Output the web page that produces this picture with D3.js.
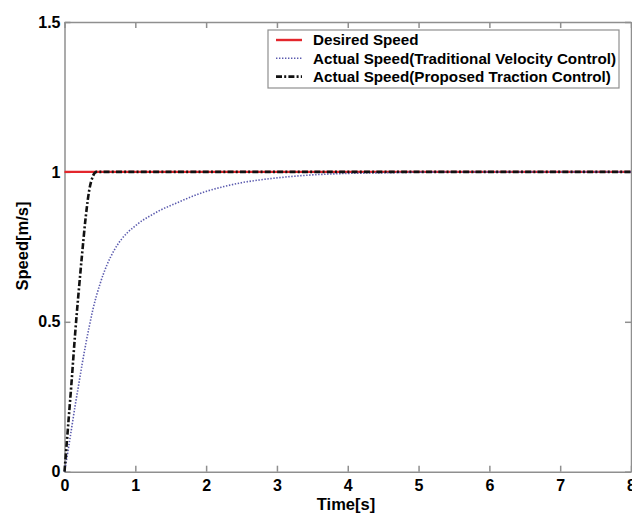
<!DOCTYPE html>
<html><head><meta charset="utf-8">
<script src="https://cdn.jsdelivr.net/npm/d3@7"></script>
<style>body{margin:0;background:#fff}svg{display:block}text{font-family:"Liberation Sans",Arial,sans-serif;font-weight:bold;fill:#000}</style>
</head><body>
<script>
// Data
const xTicks = [0,1,2,3,4,5,6,7,8];
const yTicks = [0,0.5,1,1.5];
const yTickLabels = ["0","0.5","1","1.5"];
const desiredT = [0, 8];
const desiredV = [1, 1];
const tradT = [0,0.05,0.1,0.15,0.2,0.25,0.3,0.35,0.4,0.5,0.6,0.7,0.8,0.9,1.0,1.1,1.2,1.35,1.5,1.6,1.8,2.0,2.25,2.5,2.75,3.0,3.5,4.0,4.5,5,6,7,8];
const tradV = [0,0.07,0.145,0.22,0.29,0.36,0.425,0.485,0.54,0.625,0.69,0.738,0.774,0.80,0.82,0.838,0.852,0.872,0.888,0.898,0.918,0.935,0.951,0.964,0.973,0.98,0.99,0.995,0.997,0.999,1,1,1];
const propT = [0,0.05,0.1,0.15,0.2,0.25,0.3,0.35,0.4,0.45,0.5,8];
const propV = [0,0.15,0.3,0.46,0.6,0.73,0.85,0.94,0.985,1.0,1.0,1.0];
const legendLabels = ["Desired Speed","Actual Speed(Traditional Velocity Control)","Actual Speed(Proposed Traction Control)"];
const xTitle = "Time[s]", yTitle = "Speed[m/s]";

const W=632,H=514, L=64.5, R=631, T=22, B=471.7;
const svg=d3.select("body").append("svg").attr("width",W).attr("height",H);
const x=d3.scaleLinear().domain([0,8]).range([L,R]);
const y=d3.scaleLinear().domain([0,1.5]).range([B,T]);
const axisCol="#8f8f8f";

// box + ticks
const g=svg.append("g");
const mk=(ax)=>ax.tickSizeOuter(0).tickSizeInner(-6).tickPadding(8);
const xb=g.append("g").attr("transform",`translate(0,${B})`).call(mk(d3.axisBottom(x)).tickValues(xTicks).tickFormat(d3.format("d")));
const xt=g.append("g").attr("transform",`translate(0,${T})`).call(mk(d3.axisTop(x)).tickValues(xTicks).tickFormat(""));
const yl=g.append("g").attr("transform",`translate(${L},0)`).call(mk(d3.axisLeft(y)).tickValues(yTicks).tickFormat((d,i)=>yTickLabels[i]));
const yr=g.append("g").attr("transform",`translate(${R},0)`).call(mk(d3.axisRight(y)).tickValues(yTicks).tickFormat(""));
g.selectAll(".domain,.tick line").attr("stroke",axisCol).attr("stroke-width",1.5);
g.selectAll(".tick text").style("font-size","16px").style("font-weight","bold").attr("fill","#000").style("font-family","'Liberation Sans',Arial,sans-serif");
xb.selectAll(".tick text").attr("dy","0.75em").attr("y",7);
yl.selectAll(".tick text").attr("x",-4);

const line=d3.line().x(d=>x(d[0])).y(d=>y(d[1])).curve(d3.curveMonotoneX);
const zip=(a,b)=>a.map((v,i)=>[v,b[i]]);
svg.append("path").attr("d",line(zip(desiredT,desiredV))).attr("fill","none").attr("stroke","#e3262c").attr("stroke-width",2.4);
svg.append("path").attr("d",line(zip(tradT,tradV))).attr("fill","none").attr("stroke","#5a5aae").attr("stroke-width",1.6).attr("stroke-dasharray","1.4,1.6");
svg.append("path").attr("d",line(zip(propT,propV))).attr("fill","none").attr("stroke","#111").attr("stroke-width",2.6).attr("stroke-dasharray","6,2.2,2,2.2");

// titles
svg.append("text").attr("x",346).attr("y",510).attr("text-anchor","middle").style("font-size","16.5px").text(xTitle);
svg.append("text").attr("transform","translate(28,246) rotate(-90)").attr("text-anchor","middle").style("font-size","16.5px").text(yTitle);

// legend
const lg=svg.append("g");
lg.append("rect").attr("x",268).attr("y",30).attr("width",351).attr("height",58).attr("fill","#fff").attr("stroke",axisCol).attr("stroke-width",1.2);
const styles=[{c:"#e3262c",w:2.4,d:null},{c:"#5a5aae",w:1.6,d:"1.4,1.6"},{c:"#111",w:2.6,d:"6,2.2,2,2.2"}];
legendLabels.forEach((lab,i)=>{
  const yy=40+i*18.3;
  const s=styles[i];
  lg.append("line").attr("x1",276).attr("x2",302).attr("y1",yy).attr("y2",yy).attr("stroke",s.c).attr("stroke-width",s.w).attr("stroke-dasharray",s.d);
  lg.append("text").attr("x",313).attr("y",yy).attr("dy","0.35em").style("font-size","15.2px").text(lab);
});
</script>
</body></html>
